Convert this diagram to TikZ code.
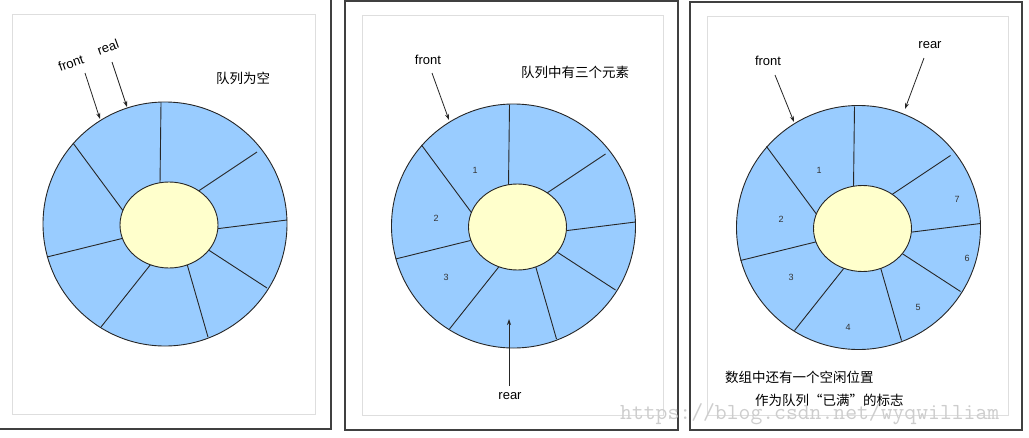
\documentclass[tikz,border=0pt]{standalone}
\usepackage{fontspec}
\setmainfont{Liberation Sans}
\newfontfamily\cjk{Noto Sans CJK SC}
\usetikzlibrary{arrows.meta}
\definecolor{ringblue}{RGB}{153,204,255}
\definecolor{hubyellow}{RGB}{255,255,204}
\definecolor{innerframe}{RGB}{222,222,222}
\definecolor{wmark}{RGB}{205,205,205}
\tikzset{
  outerframe/.style={draw=black!75, line width=1.4pt},
  innerrect/.style={draw=innerframe, line width=0.9pt},
  ring/.style={draw=black!85, fill=ringblue, line width=0.9pt},
  hub/.style={draw=black!85, fill=hubyellow, line width=0.9pt},
  divider/.style={draw=black!85, line width=0.9pt},
  ptr/.style={draw=black!85, line width=0.8pt, -{Stealth[length=6pt,width=4pt]}},
  ptrlabel/.style={font=\fontsize{13}{13}\selectfont, inner sep=1pt},
  cjklabel/.style={font=\cjk\fontsize{13.5}{14}\selectfont, inner sep=1pt, anchor=west},
  slotnum/.style={font=\fontsize{9}{9}\selectfont, text=black!80, inner sep=1pt},
}
\newcommand{\drawqueuering}[1]{%
  \begin{scope}[shift={#1}]
    \path[ring] (0,0) circle[radius=122];
    \foreach \ix/\iy/\ox/\oy in {-5/-40/-4/-121, 32/-32/92/-72, 50/5/122/-4, 42/25/102/64,
                                  22/40/43/113, -14/40/-64/103, -41/14/-118/33, -41/-12/-92/-81}
      \draw[divider] (\ix,\iy) -- (\ox,\oy);
    \path[hub] (4,1) ellipse[x radius=49, y radius=43];
  \end{scope}}
\begin{document}
\begin{tikzpicture}[x=1pt,y=-1pt]
\useasboundingbox (0,0) rectangle (1029,437);
\fill[white] (0,0) rectangle (1029,437);
% frames
\draw[outerframe] (-5,-5) rectangle (331,429);
\draw[innerrect] (12,14) rectangle (315,414);
\draw[outerframe] (345,1) rectangle (678,430);
\draw[innerrect] (362,15) rectangle (663,415);
\draw[outerframe] (690,2) rectangle (1022,430);
\draw[innerrect] (707,16) rectangle (1008,415);

% rings
\drawqueuering{(165,224)}
\drawqueuering{(513.5,226)}
\drawqueuering{(858.5,227.5)}

% panel 1
\node[ptrlabel, rotate=20] (front1) at (71,63) {front};
\node[ptrlabel, rotate=20] (real1) at (108,47) {real};
\coordinate (front1s) at (85,73);
\coordinate (front1e) at (100,119);
\coordinate (real1s) at (112,62);
\coordinate (real1e) at (127,107);
\draw[ptr] (front1s) -- (front1e);
\draw[ptr] (real1s) -- (real1e);
\node[cjklabel] (title1) at (215,78) {队列为空};

% panel 2
\node[ptrlabel] (front2) at (428,60) {front};
\coordinate (front2s) at (432,73);
\coordinate (front2e) at (449,120);
\draw[ptr] (front2s) -- (front2e);
\node[cjklabel] (title2) at (520,72) {队列中有三个元素};
\node[ptrlabel] (rear2) at (510,396) {rear};
\coordinate (rear2s) at (509,386);
\coordinate (rear2e) at (509,319);
\draw[ptr] (rear2s) -- (rear2e);
\node[slotnum] (p2n1) at (475,170) {1};
\node[slotnum] (p2n2) at (436,218) {2};
\node[slotnum] (p2n3) at (446,277) {3};

% panel 3
\node[ptrlabel] (front3) at (768,61) {front};
\coordinate (front3s) at (775,75);
\coordinate (front3e) at (794,122);
\draw[ptr] (front3s) -- (front3e);
\node[ptrlabel] (rear3) at (930,45) {rear};
\coordinate (rear3s) at (924,58);
\coordinate (rear3e) at (905,109);
\draw[ptr] (rear3s) -- (rear3e);
\node[slotnum] (p3n1) at (819,170) {1};
\node[slotnum] (p3n2) at (781,219) {2};
\node[slotnum] (p3n3) at (791,277) {3};
\node[slotnum] (p3n4) at (848,327) {4};
\node[slotnum] (p3n5) at (918,307) {5};
\node[slotnum] (p3n6) at (967,258) {6};
\node[slotnum] (p3n7) at (957,199) {7};
\node[cjklabel] (note3a) at (724,377) {数组中还有一个空闲位置};
\node[cjklabel] (note3b) at (754,400) {作为队列“已满”的标志};

% watermark
\node[font=\ttfamily\fontsize{23}{23}\selectfont, text=wmark, anchor=west, inner sep=0pt] (wm) at (620,414) {https://blog.csdn.net/wyqwilliam};
\end{tikzpicture}
\end{document}
